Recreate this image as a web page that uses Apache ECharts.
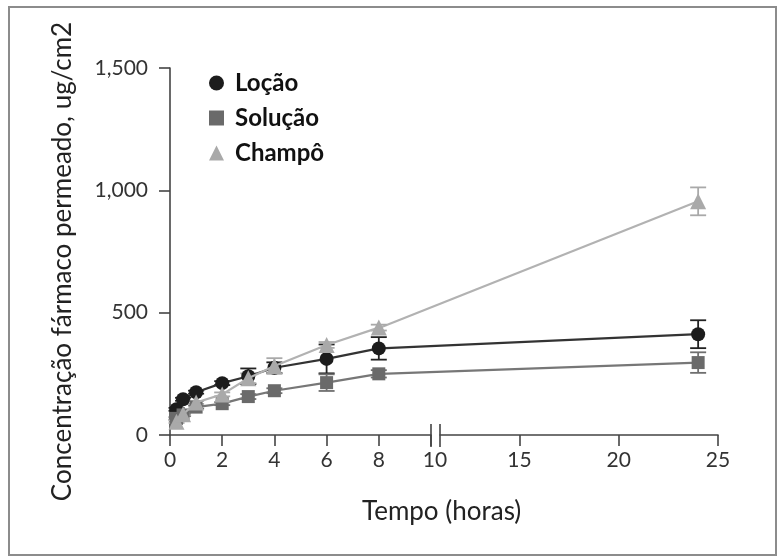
<!DOCTYPE html>
<html>
<head>
<meta charset="utf-8">
<script src="https://cdn.jsdelivr.net/npm/echarts@6/dist/echarts.min.js"></script>
<style>html,body{margin:0;padding:0;background:#fff}#c{width:784px;height:557px}</style>
</head>
<body>
<div id="c"></div>
<script>
// ---- data ----
const times = [0.25, 0.5, 1, 2, 3, 4, 6, 8, 24];
const breakAt = 10;
const locao = [105, 146, 175, 212, 240, 275, 311, 354, 412];
const locaoErr = [6, 6, 6, 8, 32, 22, 59, 46, 57];
const solucao = [68, 82, 114, 128, 157, 181, 214, 250, 296];
const solucaoErr = [5, 5, 6, 6, 10, 10, 34, 15, 42];
const champo = [54, 85, 133, 166, 232, 282, 368, 439, 955];
const champoErr = [5, 5, 6, 8, 20, 32, 12, 12, 57];
const yTicks = [0, 500, 1000, 1500];
const xTicksLeft = [0, 2, 4, 6, 8, 10];
const xTicksRight = [15, 20, 25];
const legendNames = ['Loção', 'Solução', 'Champô'];

const FONT = 'Lato';
const chart = echarts.init(document.getElementById('c'));

function errItem(params, api) {
  const x = api.value(0), lo = api.value(1), hi = api.value(2);
  const t = api.coord([x, hi]), b = api.coord([x, lo]);
  const h = 8;
  const st = { stroke: api.visual('color'), lineWidth: 1.8 };
  return { type: 'group', children: [
    { type: 'line', shape: { x1: t[0], y1: t[1], x2: b[0], y2: b[1] }, style: st },
    { type: 'line', shape: { x1: t[0] - h, y1: t[1], x2: t[0] + h, y2: t[1] }, style: st },
    { type: 'line', shape: { x1: b[0] - h, y1: b[1], x2: b[0] + h, y2: b[1] }, style: st }
  ]};
}
function bridgeItem(params, api) {
  const a = api.coord([api.value(0), api.value(1)]);
  const b = api.coord([api.value(2), api.value(3)]);
  return { type: 'line', shape: { x1: a[0], y1: a[1], x2: b[0], y2: b[1] },
    style: { stroke: api.visual('color'), lineWidth: 2.2 } };
}

const defs = [
  { name: 'Loção', vals: locao, err: locaoErr, symbol: 'circle', size: 14, fill: '#1c1c1c', line: '#333333', ecol: '#222' },
  { name: 'Solução', vals: solucao, err: solucaoErr, symbol: 'rect', size: 13, fill: '#6a6a6a', line: '#777777', ecol: '#6f6f6f' },
  { name: 'Champô', vals: champo, err: champoErr, symbol: 'triangle', size: 16, fill: '#a9a9a9', line: '#b2b2b2', ecol: '#a9a9a9' }
];

const series = [];
defs.forEach((d, k) => {
  const left = [], right = [], errL = [], errR = [];
  times.forEach((t, i) => {
    const e = [t, d.vals[i] - d.err[i], d.vals[i] + d.err[i]];
    if (t <= breakAt) { left.push([t, d.vals[i]]); errL.push(e); }
    else { right.push([t, d.vals[i]]); errR.push(e); }
  });
  const lastLeft = left[left.length - 1];
  const firstRight = right[0];
  const common = {
    name: d.name, type: 'line', symbol: d.symbol, symbolSize: d.size, showAllSymbol: true,
    itemStyle: { color: d.fill }, lineStyle: { color: d.line, width: 2.2 }, z: 3 + k,
    emphasis: { disabled: true }, animation: false
  };
  series.push(Object.assign({}, common, { xAxisIndex: 0, yAxisIndex: 0, data: left }));
  series.push(Object.assign({}, common, { xAxisIndex: 1, yAxisIndex: 1, data: right }));
  series.push({ name: d.name, type: 'custom', xAxisIndex: 1, yAxisIndex: 1, renderItem: bridgeItem, clip: false,
    itemStyle: { color: d.line }, data: [[lastLeft[0], lastLeft[1], firstRight[0], firstRight[1]]],
    encode: { x: [0, 2], y: [1, 3] }, z: 1 + k * 0.1, animation: false, silent: true });
  series.push({ name: d.name, type: 'custom', xAxisIndex: 0, yAxisIndex: 0, renderItem: errItem,
    itemStyle: { color: d.ecol }, data: errL, encode: { x: 0, y: [1, 2] }, z: 2, animation: false, silent: true });
  series.push({ name: d.name, type: 'custom', xAxisIndex: 1, yAxisIndex: 1, renderItem: errItem,
    itemStyle: { color: d.ecol }, data: errR, encode: { x: 0, y: [1, 2] }, z: 2, animation: false, silent: true });
});

const axisLine = { show: true, lineStyle: { color: '#444', width: 1.6 } };
const axisTick = { show: true, length: 11, lineStyle: { color: '#444', width: 1.6 } };
const lab = { fontFamily: FONT, fontSize: 21, color: '#333' };

chart.setOption({
  animation: false,
  title: { text: 'Tempo (horas)', left: 357, top: 494,
    textStyle: { fontFamily: FONT, fontSize: 26, fontWeight: 'normal', color: '#222' } },
  legend: {
    left: 204, top: 66, orient: 'vertical', itemWidth: 15, itemHeight: 15, itemGap: 11,
    selectedMode: false,
    textStyle: { fontFamily: FONT, fontSize: 24, fontWeight: 'bold', color: '#111', lineHeight: 24, padding: [0, 0, 0, 6] },
    data: [{ name: legendNames[0], icon: 'circle' }, { name: legendNames[1], icon: 'rect' }, { name: legendNames[2], icon: 'triangle' }]
  },
  grid: [
    { left: 170, top: 68, width: 261, height: 367 },
    { left: 440, top: 68, width: 278, height: 367 }
  ],
  xAxis: [
    { type: 'value', gridIndex: 0, min: 0, max: 10, interval: 2, axisLine, axisTick, splitLine: { show: false },
      axisLabel: Object.assign({}, lab, { margin: 15, customValues: xTicksLeft,
        formatter: v => v === 10 ? '{s|10}' : String(v),
        rich: { s: { fontFamily: FONT, fontSize: 21, color: '#333', padding: [0, 0, 0, 8] } } }) },
    { type: 'value', gridIndex: 1, min: 11, max: 25, axisLine, splitLine: { show: false },
      axisTick: Object.assign({}, axisTick, { customValues: xTicksRight }),
      axisLabel: Object.assign({}, lab, { margin: 15, customValues: xTicksRight }) }
  ],
  yAxis: [
    { type: 'value', gridIndex: 0, min: 0, max: 1500, interval: 500, axisLine, axisTick, splitLine: { show: false },
      axisLabel: Object.assign({}, lab, { margin: 22, customValues: yTicks, formatter: v => v.toLocaleString('en-US') }),
      name: 'Concentração fármaco permeado, ug/cm2', nameLocation: 'middle', nameGap: 94,
      nameTextStyle: { fontFamily: FONT, fontSize: 26, color: '#222', padding: [0, 20, 0, 0] } },
    { type: 'value', gridIndex: 1, min: 0, max: 1500, show: false }
  ],
  series
});

// axis-break marks and outer frame
const xb1 = chart.convertToPixel({ xAxisIndex: 0 }, breakAt);
const xb2 = chart.convertToPixel({ xAxisIndex: 1 }, 11);
const y0 = chart.convertToPixel({ yAxisIndex: 0 }, 0);
const bs = { stroke: '#444', lineWidth: 1.6 };
chart.setOption({
  graphic: [
    { type: 'rect', shape: { x: 9, y: 7, width: 767, height: 548 }, style: { fill: 'none', stroke: '#8c8c8c', lineWidth: 2 }, silent: true },
    { type: 'line', shape: { x1: xb1, y1: y0 - 11, x2: xb1, y2: y0 + 12 }, style: bs, silent: true },
    { type: 'line', shape: { x1: xb2, y1: y0 - 11, x2: xb2, y2: y0 + 12 }, style: bs, silent: true }
  ]
});
</script>
</body>
</html>
